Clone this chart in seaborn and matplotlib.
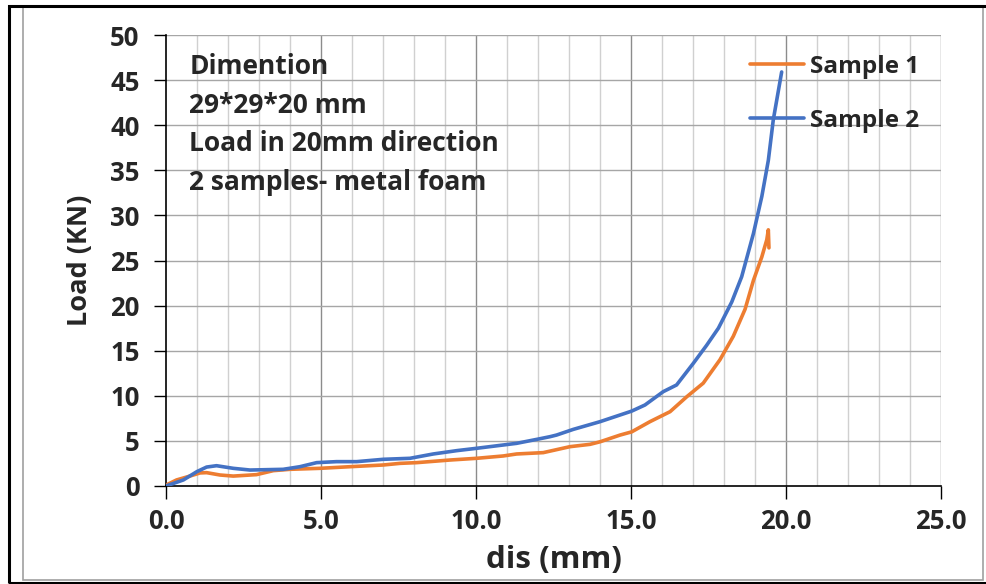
import matplotlib
matplotlib.use("Agg")
import matplotlib.pyplot as plt
import seaborn as sns
import pandas as pd
from matplotlib.patches import Rectangle

# ---- data ----
s1_x = [0.0, 0.34, 0.77, 1.1, 1.31, 1.74, 2.17, 2.92, 3.46, 4.0, 4.97, 5.94, 7.01, 7.55,
        8.09, 9.16, 10.02, 10.88, 11.31, 12.17, 13.03, 13.68, 14.0, 14.65, 15.02, 15.61,
        16.26, 16.8, 17.33, 17.87, 18.3, 18.68, 18.95, 19.22, 19.38, 19.43, 19.45]
s1_y = [0.1, 0.67, 1.1, 1.45, 1.48, 1.22, 1.1, 1.26, 1.7, 1.85, 1.96, 2.14, 2.33, 2.51,
        2.59, 2.88, 3.07, 3.33, 3.55, 3.7, 4.36, 4.62, 4.9, 5.65, 6.0, 7.13,
        8.24, 9.9, 11.4, 14.0, 16.6, 19.6, 22.8, 25.4, 27.3, 28.4, 26.4]

s2_x = [0.0, 0.56, 1.0, 1.31, 1.63, 2.17, 2.71, 3.78, 4.32, 4.86, 5.5, 6.15, 7.01, 7.87, 8.62,
        9.38, 10.02, 10.77, 11.31, 11.96, 12.39, 12.6, 13.14, 14.0, 15.02, 15.45, 16.04,
        16.47, 17.01, 17.44, 17.82, 18.25, 18.57, 18.95, 19.22, 19.43, 19.59, 19.86]
s2_y = [0.0, 0.67, 1.6, 2.1, 2.25, 1.96, 1.77, 1.85, 2.14, 2.59, 2.7, 2.7, 2.96, 3.07, 3.55,
        3.92, 4.18, 4.5, 4.73, 5.17, 5.47, 5.65, 6.28, 7.13, 8.3, 8.98, 10.46,
        11.2, 13.6, 15.6, 17.5, 20.4, 23.2, 28.0, 32.1, 36.1, 40.6, 45.9]

series_names = ["Sample 1", "Sample 2"]
series_colors = ["#ED7D31", "#4472C4"]
x_ticks = [0, 5, 10, 15, 20, 25]
y_ticks = [0, 5, 10, 15, 20, 25, 30, 35, 40, 45, 50]
note_lines = ["Dimention", "29*29*20 mm", "Load in 20mm direction", "2 samples- metal foam"]

df = pd.concat([
    pd.DataFrame({"x": s1_x, "y": s1_y, "s": series_names[0]}),
    pd.DataFrame({"x": s2_x, "y": s2_y, "s": series_names[1]}),
], ignore_index=True)

sns.set_theme(style="white")
plt.rcParams["font.family"] = ["Open Sans", "DejaVu Sans"]
plt.rcParams["font.weight"] = "bold"

fig = plt.figure(figsize=(9.86, 5.84), dpi=100)
ax = fig.add_axes([166 / 986, 1 - 486 / 584, (941 - 166) / 986, (486 - 35) / 584])

# grid
for v in range(0, 26):
    if v % 5 == 0:
        continue
    ax.axvline(v, color="#d0d0d0", lw=1.0, zorder=0)
for v in x_ticks[1:]:
    ax.axvline(v, color="#8c8c8c", lw=1.0, zorder=0.5)
for v in y_ticks[1:]:
    ax.axhline(v, color="#a6a6a6", lw=1.0, zorder=0.5)

sns.lineplot(data=df, x="x", y="y", hue="s", palette=series_colors, sort=False,
             estimator=None, lw=2.6, ax=ax, zorder=3)

ax.set_xlim(0, 25)
ax.set_ylim(0, 50)
ax.set_xticks(x_ticks)
ax.set_xticklabels([f"{v:.1f}" for v in x_ticks])
ax.set_yticks(y_ticks)
ax.set_yticklabels([str(v) for v in y_ticks])
ax.tick_params(axis="both", labelsize=18.5, length=9, width=1.0, color="black",
               direction="out", bottom=True, left=True)
ax.tick_params(axis="x", pad=7)
ax.tick_params(axis="y", pad=10)
for lab in ax.get_xticklabels() + ax.get_yticklabels():
    lab.set_fontweight("bold")

for side in ["top", "right"]:
    ax.spines[side].set_visible(False)
for side in ["left", "bottom"]:
    ax.spines[side].set_color("black")
    ax.spines[side].set_linewidth(1.2)

ax.set_xlabel("dis (mm)", fontsize=22.5, fontweight="bold", labelpad=7)
ax.set_ylabel("Load (KN)", fontsize=19.5, fontweight="bold", labelpad=12)

ax.text(0.75, 48.0, "\n".join(note_lines), fontsize=19, fontweight="bold",
        va="top", ha="left", linespacing=1.55, zorder=4)

leg = ax.legend(loc="upper right", bbox_to_anchor=(1.0, 1.005), frameon=False,
                fontsize=17.5, handlelength=2.2, handletextpad=0.25, labelspacing=1.25)
for t in leg.get_texts():
    t.set_fontweight("bold")
for h in leg.get_lines():
    h.set_linewidth(2.6)

# outer frames
fig.patches.append(Rectangle((23 / 986, 1 - 580 / 584), (983 - 23) / 986, (580 - 6) / 584,
                             transform=fig.transFigure, fill=False, ec="#a0a0a0", lw=1.2))
fig.patches.append(Rectangle((9 / 986, 1 - 583 / 584), 1.2, (583 - 6) / 584,
                             transform=fig.transFigure, fill=False, ec="black", lw=2.2))

fig.savefig("out.png", dpi=100)
